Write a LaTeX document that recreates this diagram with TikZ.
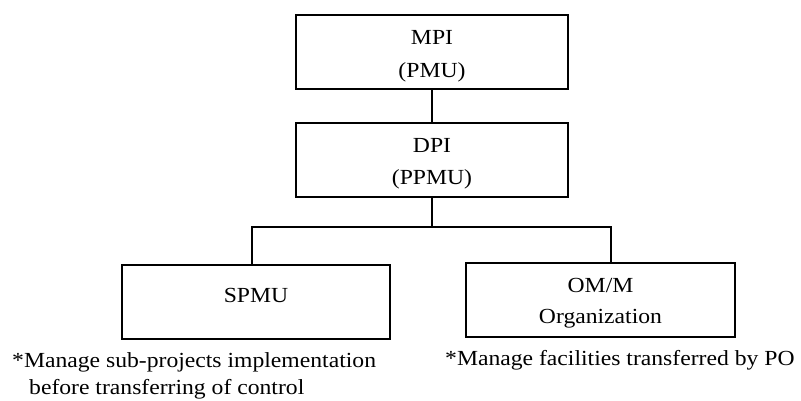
\documentclass[tikz,border=0pt]{standalone}
\usepackage{fontspec}
\setmainfont{Liberation Serif}[FakeStretch=1.1]
\begin{document}
\begin{tikzpicture}[x=1pt,y=-1pt,
  orgbox/.style={draw=black, line width=1.2pt, minimum width=#1, minimum height=74pt, inner sep=0pt},
  label/.style={anchor=base, inner sep=0pt, font=\fontsize{21.5}{32}\selectfont},
  note/.style={anchor=base west, inner sep=0pt, font=\fontsize{21.5}{32}\selectfont},
  link/.style={draw=black, line width=1.2pt}]
\useasboundingbox (0,0) rectangle (801,400);

% organisation boxes
\node[orgbox=272pt] (mpi)  at (432,52)  {};
\node[orgbox=272pt] (dpi)  at (432,160) {};
\node[orgbox=268pt] (spmu) at (256,302) {};
\node[orgbox=269pt] (om)   at (600.5,300) {};

% box texts
\node[label] (mpiA) at (432,44)  {MPI};
\node[label] (mpiB) at (432,77)  {(PMU)};
\node[label] (dpiA) at (432,152) {DPI};
\node[label] (dpiB) at (432,184) {(PPMU)};
\node[label] (spmuA) at (256,302) {SPMU};
\node[label] (omA) at (600.5,292) {OM/M};
\node[label] (omB) at (600.5,323) {Organization};

% connectors
\coordinate (jl) at (252,227);
\coordinate (jr) at (611,227);
\draw[link] (mpi.south) -- (dpi.north);
\draw[link] (dpi.south) -- (dpi.south |- jl);
\draw[link] (spmu.north -| jl) -- (jl) -- (jr) -- (om.north -| jr);

% notes
\node[note] (noteA) at (12,367) {*Manage sub-projects implementation};
\node[note] (noteB) at (29,394) {before transferring of control};
\node[note] (noteC) at (445,365) {*Manage facilities transferred by PO};
\end{tikzpicture}
\end{document}
